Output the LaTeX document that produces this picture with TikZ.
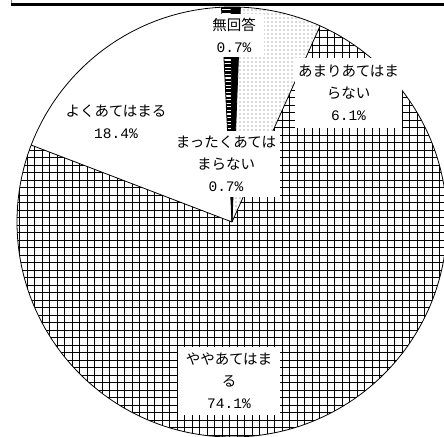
\documentclass[tikz,border=0pt]{standalone}
\usepackage{fontspec}
\newfontfamily\jpfont{Noto Sans CJK JP}
\newfontfamily\numfont{Liberation Mono}
\usetikzlibrary{positioning}
\newcommand{\wedgepath}[2]{(c) -- ++(#1:215) arc[start angle=#1,end angle=#2,radius=215] -- cycle}

\begin{document}
\begin{tikzpicture}[x=1pt,y=1pt,every node/.style={outer sep=0pt},
    rim/.style={line width=0.8pt},
    tag/.style={fill=white,inner sep=0pt,align=center,
      font=\jpfont\fontsize{14.5}{22}\selectfont},
    gridline/.style={line width=1pt},
    dot/.style={fill=black!65}]

  \clip (0,0) rectangle (444,436);
  \coordinate (c) at (232,214);

  % slices
  \fill[white] \wedgepath{92.8}{159.04};
  \begin{scope}
    \clip \wedgepath{159.04}{425.8};
    \begin{scope}[shift={(4.5,0.5)}]
      \draw[gridline,step=7.5pt] (-15,-15) grid (450,450);
    \end{scope}
  \end{scope}
  \begin{scope}
    \clip \wedgepath{65.8}{87.76};
    \foreach \i in {0,...,24}
      \foreach \j in {0,...,54}
        \fill[dot] (232+4*\i,214+4*\j) circle[radius=0.55];
  \end{scope}
  \fill \wedgepath{87.76}{90.28};
  \begin{scope}
    \clip \wedgepath{90.28}{92.8};
    \fill (200,200) rectangle (260,436);
    \foreach \j in {0,...,62}
      \draw[white,line width=1.2pt] (200,214+3.6*\j) -- (231,214+3.6*\j);
  \end{scope}

  % outlines
  \draw[rim] (c) circle[radius=215];
  \foreach \a in {65.8,87.76,90.28,92.8,159.04}
    \draw[rim] (c) -- ++(\a:215);

  % labels
  \node[tag,minimum width=60,minimum height=43] (nr) at (234,400.5)
    {無回答\\{\numfont 0.7\%}};
  \node[tag,minimum width=108,minimum height=66] (mt) at (226,272)
    {まったくあては\\まらない\\{\numfont 0.7\%}};
  \node[tag,minimum width=107,minimum height=70] (am) at (348.5,343)
    {あまりあてはま\\らない\\{\numfont 6.1\%}};
  \node[tag,minimum width=102,minimum height=68] (yy) at (229,55)
    {ややあてはま\\る\\{\numfont 74.1\%}};
  \node[tag] (yk) at (116,314) {よくあてはまる\\{\numfont 18.4\%}};

  % frame edge on top
  \draw[black!50,line width=0.6pt] (11.3,436) -- (11.3,432);
  \draw[line width=2.7pt] (11.3,431.3) -- (444,431.3);
\end{tikzpicture}
\end{document}
